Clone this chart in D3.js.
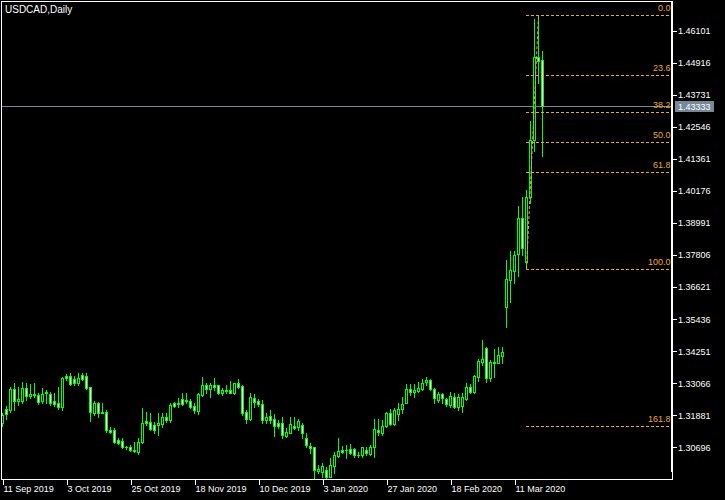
<!DOCTYPE html>
<html><head><meta charset="utf-8">
<script src="https://cdn.jsdelivr.net/npm/d3@7"></script>
<style>
html,body{margin:0;padding:0;background:#000;}
svg{display:block;}
text{font-family:"Liberation Sans",Arial,sans-serif;}
</style></head>
<body>
<script>
// ---- data ----
const symbolTitle = "USDCAD,Daily";
const opens = [1.3158,1.3210,1.3208,1.3284,1.3242,1.3242,1.3288,1.3261,1.3266,1.3262,
1.3242,1.3269,1.3267,1.3240,1.3232,1.3218,1.3333,1.3333,1.3321,1.3309,
1.3336,1.3333,1.3292,1.3198,1.3232,1.3198,1.3199,1.3134,1.3134,1.3097,
1.3094,1.3070,1.3070,1.3060,1.3054,1.3088,1.3167,1.3165,1.3152,1.3152,
1.3156,1.3181,1.3171,1.3232,1.3230,1.3247,1.3242,1.3241,1.3223,1.3205,
1.3263,1.3301,1.3285,1.3300,1.3300,1.3272,1.3282,1.3282,1.3269,1.3306,
1.3296,1.3202,1.3173,1.3251,1.3241,1.3229,1.3171,1.3186,1.3173,1.3161,
1.3161,1.3113,1.3124,1.3149,1.3144,1.3152,1.3103,1.3075,1.3070,1.2983,
1.2980,1.2986,1.2961,1.3002,1.3038,1.3060,1.3059,1.3062,1.3062,1.3040,
1.3040,1.3060,1.3045,1.3070,1.3134,1.3121,1.3149,1.3195,1.3156,1.3193,
1.3210,1.3235,1.3284,1.3276,1.3279,1.3284,1.3312,1.3319,1.3284,1.3245,
1.3267,1.3247,1.3226,1.3257,1.3220,1.3223,1.3247,1.3294,1.3276,1.3331,
1.3386,1.3436,1.3325,1.3380,1.3383,1.3409,1.3587,1.3688,1.3723,1.3783,
1.3917,1.3755,1.3995,1.4206,1.4512,1.4502];
const highs = [1.3195,1.3223,1.3294,1.3306,1.3294,1.3311,1.3309,1.3304,1.3306,1.3269,
1.3288,1.3282,1.3273,1.3269,1.3292,1.3331,1.3341,1.3343,1.3333,1.3343,
1.3343,1.3346,1.3294,1.3242,1.3239,1.3232,1.3208,1.3144,1.3140,1.3103,
1.3103,1.3075,1.3077,1.3091,1.3103,1.3214,1.3202,1.3195,1.3165,1.3195,
1.3198,1.3195,1.3232,1.3239,1.3251,1.3272,1.3269,1.3247,1.3232,1.3269,
1.3329,1.3306,1.3306,1.3325,1.3301,1.3288,1.3300,1.3316,1.3309,1.3321,
1.3300,1.3208,1.3269,1.3267,1.3247,1.3245,1.3198,1.3208,1.3193,1.3171,
1.3183,1.3140,1.3183,1.3181,1.3173,1.3158,1.3121,1.3084,1.3072,1.3004,
1.3011,1.2998,1.3029,1.3054,1.3103,1.3075,1.3078,1.3082,1.3066,1.3054,
1.3072,1.3070,1.3078,1.3173,1.3173,1.3171,1.3202,1.3210,1.3214,1.3232,
1.3257,1.3304,1.3304,1.3304,1.3312,1.3321,1.3331,1.3322,1.3288,1.3276,
1.3272,1.3251,1.3276,1.3269,1.3267,1.3269,1.3306,1.3304,1.3337,1.3396,
1.3467,1.3442,1.3393,1.3433,1.3442,1.3442,1.3762,1.3796,1.3796,1.3962,
1.3995,1.4021,1.4276,1.4652,1.4667,1.4536];
const lows = [1.3150,1.3176,1.3202,1.3208,1.3226,1.3232,1.3245,1.3251,1.3257,1.3230,
1.3232,1.3232,1.3225,1.3223,1.3210,1.3208,1.3319,1.3299,1.3300,1.3300,
1.3319,1.3285,1.3168,1.3189,1.3183,1.3195,1.3128,1.3121,1.3084,1.3082,
1.3066,1.3065,1.3057,1.3054,1.3045,1.3087,1.3152,1.3134,1.3121,1.3115,
1.3146,1.3165,1.3165,1.3220,1.3220,1.3226,1.3232,1.3216,1.3198,1.3192,
1.3259,1.3269,1.3257,1.3282,1.3267,1.3263,1.3272,1.3269,1.3267,1.3288,
1.3189,1.3158,1.3171,1.3220,1.3223,1.3161,1.3161,1.3158,1.3113,1.3140,
1.3103,1.3109,1.3121,1.3136,1.3134,1.3103,1.3072,1.3050,1.2955,1.2974,
1.2961,1.2955,1.2959,1.2976,1.3033,1.3048,1.3029,1.3045,1.3035,1.3033,
1.3033,1.3041,1.3041,1.3033,1.3115,1.3115,1.3146,1.3152,1.3152,1.3171,
1.3195,1.3232,1.3263,1.3257,1.3276,1.3282,1.3300,1.3282,1.3235,1.3239,
1.3232,1.3223,1.3220,1.3214,1.3208,1.3202,1.3245,1.3269,1.3272,1.3316,
1.3374,1.3312,1.3316,1.3330,1.3380,1.3381,1.3516,1.3608,1.3678,1.3703,
1.3781,1.3729,1.3973,1.4166,1.4418,1.4148];
const closes = [1.3189,1.3193,1.3284,1.3242,1.3247,1.3288,1.3261,1.3266,1.3262,1.3239,
1.3267,1.3274,1.3235,1.3229,1.3218,1.3327,1.3325,1.3303,1.3306,1.3325,
1.3324,1.3288,1.3199,1.3234,1.3195,1.3199,1.3134,1.3126,1.3088,1.3087,
1.3070,1.3071,1.3060,1.3057,1.3091,1.3158,1.3158,1.3139,1.3134,1.3158,
1.3181,1.3171,1.3226,1.3224,1.3232,1.3231,1.3246,1.3220,1.3208,1.3267,
1.3301,1.3284,1.3300,1.3292,1.3269,1.3282,1.3278,1.3272,1.3306,1.3294,
1.3195,1.3173,1.3255,1.3239,1.3229,1.3171,1.3183,1.3171,1.3150,1.3149,
1.3115,1.3128,1.3155,1.3140,1.3168,1.3121,1.3078,1.3066,1.2986,1.2991,
1.3001,1.2961,1.3004,1.3041,1.3056,1.3054,1.3060,1.3050,1.3040,1.3041,
1.3070,1.3048,1.3070,1.3136,1.3125,1.3149,1.3195,1.3156,1.3208,1.3210,
1.3229,1.3284,1.3274,1.3282,1.3288,1.3309,1.3319,1.3284,1.3251,1.3267,
1.3251,1.3229,1.3259,1.3220,1.3257,1.3257,1.3294,1.3276,1.3333,1.3389,
1.3395,1.3325,1.3385,1.3385,1.3411,1.3422,1.3691,1.3725,1.3781,1.3917,
1.3807,1.3995,1.4206,1.4512,1.4499,1.4333];
const priceTicks = [1.46101,1.44916,1.43731,1.42546,1.41361,1.40176,1.38991,1.37806,1.36621,1.35436,1.34251,1.33066,1.31881,1.30696];
const dateTickBars = [0,16,32,48,64,80,96,112,128];
const dateTickLabels = ["11 Sep 2019","3 Oct 2019","25 Oct 2019","18 Nov 2019","10 Dec 2019","3 Jan 2020","27 Jan 2020","18 Feb 2020","11 Mar 2020"];
const currentPrice = 1.43333;
const fibLevels = [0, 23.6, 38.2, 50.0, 61.8, 100.0, 161.8];
const fibHigh = 1.4667, fibLow = 1.3729;
const fibLowBar = 131, fibHighBar = 134;

// ---- layout ----
const W = 725, H = 500;
const plotRight = 671, plotBottom = 479;
const GREEN = "#00ff00", FIB = "#eea832", BIDC = "#778899";

const svg = d3.select("body").append("svg").attr("width", W).attr("height", H)
  .style("background", "#000");

const x = d3.scaleLinear().domain([0, 135]).range([2.5, 2.5 + 4 * 135]);
const y = d3.scaleLinear().domain([1.29526, 1.47236]).range([479, 0]);

svg.append("clipPath").attr("id", "plot").append("rect")
  .attr("x", 2).attr("y", 2).attr("width", plotRight - 2).attr("height", plotBottom - 2);

const g = svg.append("g").attr("clip-path", "url(#plot)").attr("shape-rendering", "crispEdges");

// current price line
g.append("line").attr("x1", 0).attr("x2", plotRight)
  .attr("y1", Math.round(y(currentPrice)) + 0.5).attr("y2", Math.round(y(currentPrice)) + 0.5)
  .attr("stroke", BIDC).attr("stroke-width", 1);

// candles
const bars = d3.range(opens.length).map(i => ({i, o: opens[i], h: highs[i], l: lows[i], c: closes[i]}));
const cg = g.append("g");
bars.forEach(d => {
  const cx = x(d.i);
  const yh = Math.round(y(d.h)), yl = Math.round(y(d.l));
  cg.append("rect").attr("x", cx - 0.5).attr("y", yh).attr("width", 1).attr("height", Math.max(1, yl - yh + 1)).attr("fill", GREEN);
  const yt = Math.round(y(Math.max(d.o, d.c))), yb = Math.round(y(Math.min(d.o, d.c)));
  cg.append("rect").attr("x", cx - 1.5).attr("y", yt).attr("width", 3).attr("height", Math.max(1, yb - yt + 1)).attr("fill", GREEN);
  if (yb - yt >= 2) {
    cg.append("rect").attr("x", cx - 0.5).attr("y", yt + 1).attr("width", 1).attr("height", yb - yt - 1)
      .attr("fill", d.c < d.o ? "#ffffff" : "#000000");
  }
});

// fibonacci
const fg = g.append("g");
fg.append("line")
  .attr("x1", x(fibLowBar)).attr("y1", y(fibLow))
  .attr("x2", x(fibHighBar)).attr("y2", y(fibHigh))
  .attr("stroke", FIB).attr("stroke-width", 1).attr("stroke-dasharray", "3,2")
  .attr("shape-rendering", "auto");
fibLevels.forEach(lv => {
  const p = fibHigh - lv / 100 * (fibHigh - fibLow);
  const yy = Math.round(y(p)) + 0.5;
  fg.append("line").attr("x1", Math.floor(x(fibLowBar))).attr("x2", plotRight)
    .attr("y1", yy).attr("y2", yy).attr("stroke", FIB).attr("stroke-dasharray", "3,2");
  svg.append("text").attr("x", 670.5).attr("y", yy - 4.5).attr("text-anchor", "end")
    .attr("fill", FIB).attr("font-size", 9).text(lv.toFixed(1));
});

// frame
const frame = svg.append("g").attr("shape-rendering", "crispEdges");
frame.append("line").attr("x1", 1).attr("x2", 673).attr("y1", 1.5).attr("y2", 1.5).attr("stroke", "#fff");
frame.append("line").attr("x1", 1.5).attr("x2", 1.5).attr("y1", 1).attr("y2", 480).attr("stroke", "#fff");
frame.append("rect").attr("x", 671).attr("y", 1).attr("width", 2).attr("height", 471).attr("fill", "#fff");
frame.append("line").attr("x1", 672.5).attr("x2", 672.5).attr("y1", 472).attr("y2", 480).attr("stroke", "#fff");
frame.append("line").attr("x1", 1).attr("x2", 673).attr("y1", 479.5).attr("y2", 479.5).attr("stroke", "#fff");

// price axis
const yAxis = d3.axisRight(y).tickValues(priceTicks).tickFormat(d3.format(".5f")).tickSize(4).tickPadding(1);
const ya = svg.append("g").attr("transform", "translate(673,0)").call(yAxis);
ya.select(".domain").remove();
ya.selectAll("line").attr("stroke", "#fff").attr("shape-rendering", "crispEdges");
ya.selectAll("text").attr("fill", "#fff").attr("font-size", 9).attr("font-family", "Liberation Sans, Arial, sans-serif");

// current price label
const cy = Math.round(y(currentPrice));
svg.append("rect").attr("x", 675).attr("y", cy - 5).attr("width", 39).attr("height", 11).attr("fill", BIDC);
svg.append("text").attr("x", 678).attr("y", cy + 3.5).attr("fill", "#fff").attr("font-size", 9)
  .text(d3.format(".5f")(currentPrice));

// date axis
const xAxis = d3.axisBottom(x).tickValues(dateTickBars).tickFormat((d, i) => dateTickLabels[i]).tickSize(6);
const xa = svg.append("g").attr("transform", "translate(0,479)").call(xAxis);
xa.select(".domain").remove();
xa.selectAll("line").attr("stroke", "#fff").attr("shape-rendering", "crispEdges");
xa.selectAll("text").attr("fill", "#fff").attr("font-size", 9).attr("font-family", "Liberation Sans, Arial, sans-serif")
  .attr("text-anchor", "start").attr("x", 0.5).attr("y", 12.5).attr("dy", null);

// title
svg.append("text").attr("x", 5).attr("y", 13).attr("fill", "#fff").attr("font-size", 10).text(symbolTitle);
</script>
</body></html>
